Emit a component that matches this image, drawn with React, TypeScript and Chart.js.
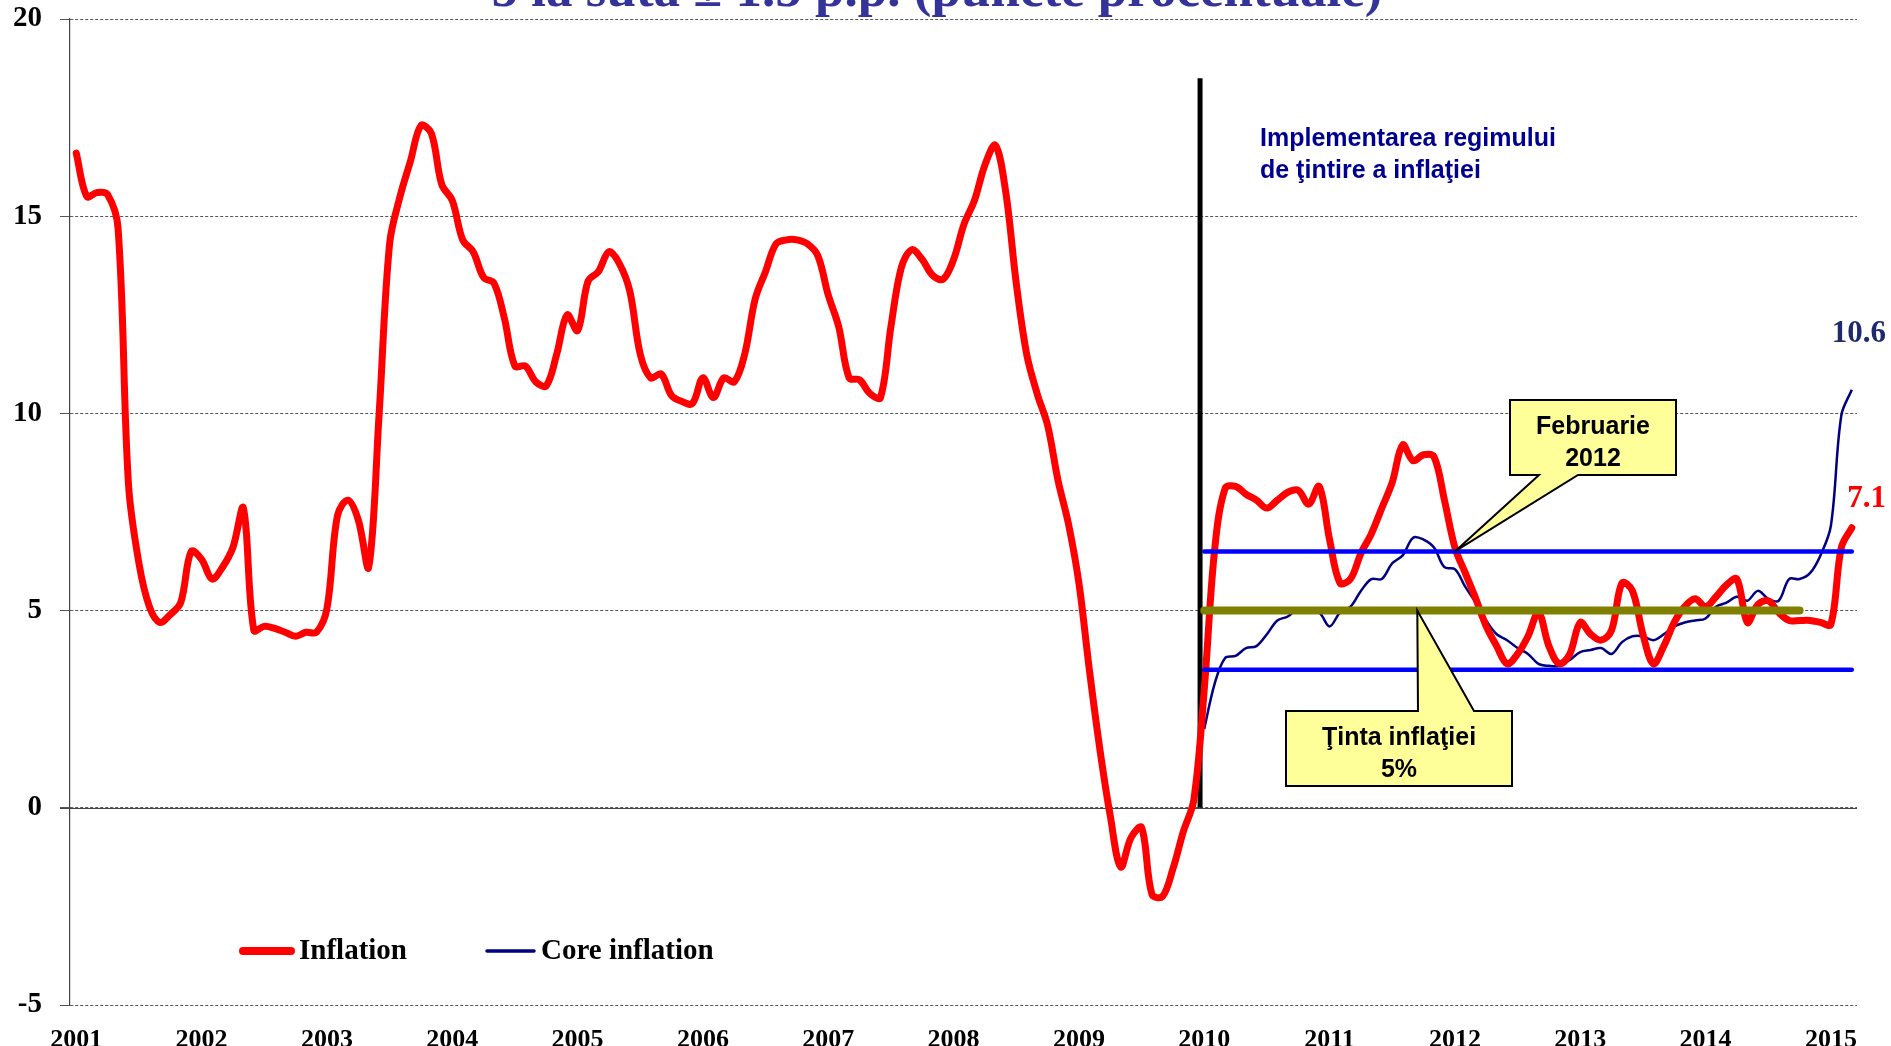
import React, { useEffect, useRef } from 'react';
import { Chart, registerables } from 'chart.js';

Chart.register(...registerables);

// Year labels (January of each year, monthly index = 12 * k)
const YEAR_LABELS = ['2001', '2002', '2003', '2004', '2005', '2006', '2007', '2008', '2009', '2010', '2011', '2012', '2013', '2014', '2015'];

// Monthly headline inflation, Jan 2001 .. Mar 2015 (%, y/y)
const INFLATION = [
  16.6, 15.5, 15.6, 15.55, 14.7, 8.2, 6.2, 5.1, 4.7, 4.9, 5.2, 6.5, // 2001
  6.3, 5.8, 6.1, 6.6, 7.6, 4.5, 4.6, 4.55, 4.45, 4.35, 4.45, 4.45, // 2002
  5.05, 7.4, 7.8, 7.3, 6.1, 10.0, 14.3, 15.5, 16.4, 17.3, 17.1, 15.8, // 2003
  15.4, 14.4, 14.1, 13.45, 13.3, 12.4, 11.2, 11.2, 10.8, 10.7, 11.5, 12.5, // 2004
  12.1, 13.35, 13.6, 14.1, 13.8, 13.1, 11.5, 10.9, 11.0, 10.45, 10.3, 10.25, // 2005
  10.9, 10.4, 10.9, 10.8, 11.5, 12.9, 13.6, 14.3, 14.4, 14.4, 14.3, 14.0, // 2006
  13.0, 12.2, 10.9, 10.85, 10.5, 10.4, 12.2, 13.7, 14.15, 13.9, 13.5, 13.4, // 2007
  13.9, 14.8, 15.4, 16.3, 16.8, 15.6, 13.3, 11.5, 10.5, 9.7, 8.3, 7.2, // 2008
  5.7, 3.5, 1.5, -0.2, -1.5, -0.75, -0.5, -2.2, -2.25, -1.55, -0.6, 0.2, // 2009
  3.0, 6.55, 8.1, 8.15, 7.95, 7.8, 7.6, 7.8, 8.0, 8.05, 7.7, 8.15, // 2010
  6.8, 5.7, 5.8, 6.45, 6.95, 7.6, 8.25, 9.2, 8.8, 8.95, 8.9, 7.8, // 2011
  6.6, 5.95, 5.3, 4.6, 4.1, 3.65, 3.9, 4.35, 4.95, 4.1, 3.65, 3.9, // 2012
  4.7, 4.4, 4.25, 4.5, 5.7, 5.5, 4.4, 3.65, 4.1, 4.7, 5.1, 5.3, // 2013
  5.1, 5.35, 5.65, 5.8, 4.7, 5.15, 5.25, 4.95, 4.75, 4.75, 4.75, 4.7, // 2014
  4.65, 6.6, 7.1, // 2015
];

// Core inflation starts Jan 2010 (month index 108)
const CORE_START = 108;
const CORE_INFLATION = [
  2.0, 3.15, 3.8, 3.85, 4.05, 4.1, 4.4, 4.75, 4.85, 5.05, 4.95, 4.95, // 2010
  4.6, 4.95, 5.1, 5.5, 5.8, 5.8, 6.2, 6.4, 6.85, 6.8, 6.6, 6.1, // 2011
  6.05, 5.6, 5.2, 4.75, 4.4, 4.25, 4.05, 3.9, 3.65, 3.6, 3.6, 3.75, // 2012
  3.95, 4.0, 4.05, 3.9, 4.2, 4.35, 4.35, 4.25, 4.4, 4.6, 4.7, 4.75, // 2013
  4.8, 5.1, 5.2, 5.35, 5.25, 5.5, 5.3, 5.25, 5.8, 5.8, 5.95, 6.4, // 2014
  7.15, 9.95, 10.6, // 2015
];

// Inflation target corridor: 5% +/- 1.5 p.p.
const TARGET_VALUE = 5;
const BAND_UPPER = 6.5;
const BAND_LOWER = 3.5;
const BAND_RANGE = [108, 170];
const TARGET_RANGE = [108, 165];

// Start of the inflation targeting regime (vertical marker)
const REGIME_X = 107.6;
const REGIME_Y = [0, 18.5];

const Y_MIN = -5;
const Y_MAX = 20;
const Y_STEP = 5;

const SERIF = '"Liberation Serif", "Times New Roman", serif';
const SANS = '"Liberation Sans", Arial, sans-serif';

function drawCallout(
  ctx: CanvasRenderingContext2D,
  box: { l: number; t: number; r: number; b: number },
  base: [number, number],
  tip: { x: number; y: number },
  side: 'top' | 'bottom',
  lines: string[],
  centers: number[],
) {
  const { l, t, r, b } = box;
  ctx.save();
  ctx.beginPath();
  if (side === 'bottom') {
    ctx.moveTo(l, t);
    ctx.lineTo(r, t);
    ctx.lineTo(r, b);
    ctx.lineTo(base[1], b);
    ctx.lineTo(tip.x, tip.y);
    ctx.lineTo(base[0], b);
    ctx.lineTo(l, b);
  } else {
    ctx.moveTo(l, t);
    ctx.lineTo(base[0], t);
    ctx.lineTo(tip.x, tip.y);
    ctx.lineTo(base[1], t);
    ctx.lineTo(r, t);
    ctx.lineTo(r, b);
    ctx.lineTo(l, b);
  }
  ctx.closePath();
  ctx.fillStyle = '#FFFF99';
  ctx.fill();
  ctx.strokeStyle = '#000';
  ctx.lineWidth = 2;
  ctx.stroke();
  ctx.fillStyle = '#000';
  ctx.font = `bold 25px ${SANS}`;
  ctx.textAlign = 'center';
  ctx.textBaseline = 'middle';
  const cx = (l + r) / 2;
  lines.forEach((s, k) => ctx.fillText(s, cx, centers[k]));
  ctx.restore();
}

const overlayPlugin = {
  id: 'overlay',
  beforeDatasetsDraw(chart: any) {
    const { ctx, chartArea, scales } = chart;
    const y0 = Math.round(scales.y.getPixelForValue(0)) + 0.5;
    ctx.save();
    ctx.strokeStyle = '#444';
    ctx.lineWidth = 1.2;
    ctx.beginPath();
    ctx.moveTo(chartArea.left - 10, y0);
    ctx.lineTo(chartArea.right, y0);
    ctx.stroke();
    ctx.restore();
  },
  afterDraw(chart: any) {
    const { ctx, scales } = chart;
    const xs = scales.x;
    const ys = scales.y;
    ctx.save();
    // Title (partially cut at the top)
    ctx.fillStyle = '#333399';
    ctx.font = `bold 53px ${SERIF}`;
    ctx.textAlign = 'center';
    ctx.textBaseline = 'alphabetic';
    ctx.fillText('5 la sută ± 1.5 p.p. (puncte procentuale)', 937, 6);

    // Regime text
    ctx.fillStyle = '#000090';
    ctx.font = `bold 25px ${SANS}`;
    ctx.textAlign = 'left';
    ctx.textBaseline = 'middle';
    ctx.fillText('Implementarea regimului', 1260, 139);
    ctx.fillText('de ţintire a inflaţiei', 1260, 171);

    // End labels
    ctx.font = `bold 31px ${SERIF}`;
    ctx.textAlign = 'right';
    ctx.fillStyle = '#1F2A6B';
    ctx.fillText('10.6', 1886, 334);
    ctx.fillStyle = '#FF0000';
    ctx.fillText('7.1', 1886, 499);

    // Legend
    ctx.lineCap = 'round';
    ctx.strokeStyle = '#FF0000';
    ctx.lineWidth = 8;
    ctx.beginPath();
    ctx.moveTo(243, 951);
    ctx.lineTo(291, 951);
    ctx.stroke();
    ctx.strokeStyle = '#000080';
    ctx.lineWidth = 3.5;
    ctx.beginPath();
    ctx.moveTo(487, 951);
    ctx.lineTo(534, 951);
    ctx.stroke();
    ctx.fillStyle = '#000';
    ctx.font = `bold 29px ${SERIF}`;
    ctx.textAlign = 'left';
    ctx.textBaseline = 'middle';
    ctx.fillText('Inflation', 299, 952);
    ctx.fillText('Core inflation', 541, 952);
    ctx.restore();

    // Callouts
    drawCallout(
      ctx,
      { l: 1510, t: 400, r: 1676, b: 475 },
      [1539, 1578],
      { x: xs.getPixelForValue(132), y: ys.getPixelForValue(BAND_UPPER) },
      'bottom',
      ['Februarie', '2012'],
      [427, 459],
    );
    drawCallout(
      ctx,
      { l: 1286, t: 711, r: 1512, b: 786 },
      [1418, 1474],
      { x: xs.getPixelForValue(128.4), y: ys.getPixelForValue(TARGET_VALUE) },
      'top',
      ['Ţinta inflaţiei', '5%'],
      [738, 770],
    );
  },
};

export default function App() {
  const canvasRef = useRef<HTMLCanvasElement | null>(null);

  useEffect(() => {
    const canvas = canvasRef.current;
    if (!canvas) return;

    const inflationData = INFLATION.map((v, i) => ({ x: i, y: v }));
    const coreData = CORE_INFLATION.map((v, i) => ({ x: CORE_START + i, y: v }));
    const hLine = (v: number, range: number[]) => range.map((x) => ({ x, y: v }));

    const chart = new Chart(canvas, {
      type: 'line',
      data: {
        datasets: [
          {
            label: 'Regime',
            data: REGIME_Y.map((y) => ({ x: REGIME_X, y })),
            borderColor: '#000000',
            borderWidth: 5,
            pointRadius: 0,
            tension: 0,
            order: 6,
          },
          {
            label: 'Core inflation',
            data: coreData,
            borderColor: '#000080',
            borderWidth: 2.5,
            pointRadius: 0,
            tension: 0.35,
            order: 5,
          },
          {
            label: 'Inflation',
            data: inflationData,
            borderColor: '#FF0000',
            borderWidth: 7,
            pointRadius: 0,
            tension: 0.35,
            borderCapStyle: 'round',
            borderJoinStyle: 'round',
            order: 4,
          },
          {
            label: 'Upper',
            data: hLine(BAND_UPPER, BAND_RANGE),
            borderColor: '#0000FF',
            borderWidth: 4.5,
            pointRadius: 0,
            borderCapStyle: 'round',
            order: 3,
          },
          {
            label: 'Lower',
            data: hLine(BAND_LOWER, BAND_RANGE),
            borderColor: '#0000FF',
            borderWidth: 4.5,
            pointRadius: 0,
            borderCapStyle: 'round',
            order: 2,
          },
          {
            label: 'Target',
            data: hLine(TARGET_VALUE, TARGET_RANGE),
            borderColor: '#808000',
            borderWidth: 8,
            pointRadius: 0,
            borderCapStyle: 'round',
            order: 1,
          },
        ],
      },
      options: {
        animation: false,
        responsive: false,
        maintainAspectRatio: false,
        layout: { padding: { top: 19, right: 34, left: 0, bottom: 0 } },
        plugins: {
          legend: { display: false },
          tooltip: { enabled: false },
          title: { display: false },
        },
        scales: {
          x: {
            type: 'linear',
            min: -0.6,
            max: 170.5,
            grid: { display: false },
            border: { display: false },
            afterBuildTicks: (scale: any) => {
              scale.ticks = YEAR_LABELS.map((_, k) => ({ value: k * 12 }));
            },
            afterFit: (scale: any) => {
              scale.height = 41;
              scale.paddingLeft = 0;
              scale.paddingRight = 0;
            },
            ticks: {
              autoSkip: false,
              maxRotation: 0,
              padding: 12,
              color: '#000',
              font: { family: SERIF, size: 26, weight: 'bold' },
              callback: (v: any) => YEAR_LABELS[Math.round(Number(v) / 12)] ?? '',
            },
          },
          y: {
            min: Y_MIN,
            max: Y_MAX,
            afterFit: (scale: any) => {
              scale.width = 70;
              scale.paddingTop = 0;
              scale.paddingBottom = 0;
            },
            grid: {
              color: '#555',
              lineWidth: 1,
              tickLength: 10,
              drawTicks: true,
            },
            border: { display: true, color: '#444', width: 1.2, dash: [3, 2] },
            ticks: {
              stepSize: Y_STEP,
              padding: 18,
              color: '#000',
              font: { family: SERIF, size: 29, weight: 'bold' },
            },
          },
        },
      } as any,
      plugins: [overlayPlugin],
    });

    return () => chart.destroy();
  }, []);

  return (
    <div style={{ position: 'fixed', left: 0, top: 0, width: 1891, height: 1046, background: '#fff' }}>
      <canvas ref={canvasRef} width={1891} height={1046} style={{ display: 'block' }} />
    </div>
  );
}
